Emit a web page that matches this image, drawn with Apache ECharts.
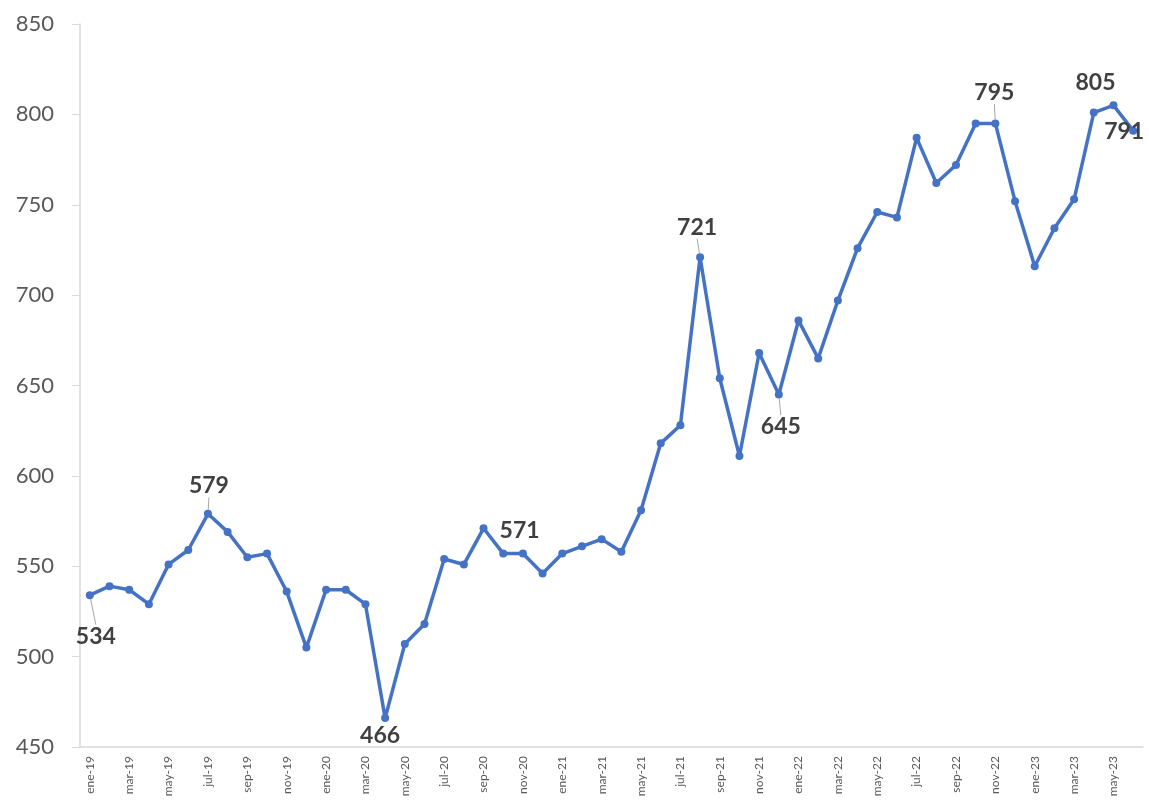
<!DOCTYPE html>
<html><head><meta charset="utf-8">
<script src="https://cdn.jsdelivr.net/npm/echarts@6/dist/echarts.min.js"></script>
<style>html,body{margin:0;padding:0;background:#fff}#c{width:1149px;height:800px}</style>
</head><body><div id="c"></div>
<script>
const months = ['ene','feb','mar','abr','may','jun','jul','ago','sep','oct','nov','dic'];
const years = ['19','20','21','22','23'];
const categories = [];
years.forEach(y => months.forEach(m => categories.push(m + '-' + y)));
categories.length = 54; // ene-19 .. jun-23
const values = [534,539,537,529,551,559,579,569,555,557,536,505,
  537,537,529,466,507,518,554,551,571,557,557,546,
  557,561,565,558,581,618,628,721,654,611,668,645,
  686,665,697,726,746,743,787,762,772,795,795,752,
  716,737,753,801,805,791];
const labeledIdx = [0,6,15,20,31,35,46,52,53];
const leaderIdx = [0,6,31,35,46];
const yTicks = [450,500,550,600,650,700,750,800,850];

const offsets = {0:[6,41],6:[1,-28],15:[-5,17],20:[36,2],31:[-3,-30],35:[2,32],46:[-1,-31],52:[-18,-23],53:[-9,1]};

const data = values.map((v,i)=>{
  if (labeledIdx.includes(i)) return {value:v, label:{show:true}, labelLine:{show:leaderIdx.includes(i)}};
  return v;
});

const chart = echarts.init(document.getElementById('c'));
chart.setOption({
  animation:false,
  grid:{left:80,right:6,top:24,bottom:53,containLabel:false},
  xAxis:{type:'category',data:categories,boundaryGap:true,
    axisLine:{lineStyle:{color:'#d9d9d9',width:1.5}},
    axisTick:{interval:1,length:5,lineStyle:{color:'#d9d9d9'}},
    axisLabel:{interval:1,rotate:90,fontSize:12,color:'#595959',fontFamily:'Lato',margin:9}},
  yAxis:{type:'value',min:450,max:850,interval:50,
    axisLine:{show:true,lineStyle:{color:'#d9d9d9',width:1.5}},
    axisTick:{show:true,length:8,lineStyle:{color:'#d9d9d9'}},
    splitLine:{show:false},
    axisLabel:{fontSize:22,color:'#595959',fontFamily:'Lato',margin:26,
      formatter:v=>yTicks.includes(v)?String(v):''}},
  series:[{type:'line',data:data,symbol:'circle',symbolSize:8,
    itemStyle:{color:'#4472C4'},lineStyle:{color:'#4472C4',width:3.5},
    label:{show:false,position:'inside',fontSize:23,fontWeight:'bold',color:'#404040',fontFamily:'Lato'},
    labelLine:{show:false,lineStyle:{color:'#a6a6a6',width:1}},
    labelLayout:function(p){
      const o = offsets[p.dataIndex]||[0,0];
      return {dx:o[0],dy:o[1],hideOverlap:false};
    }
  }]
});
</script></body></html>
